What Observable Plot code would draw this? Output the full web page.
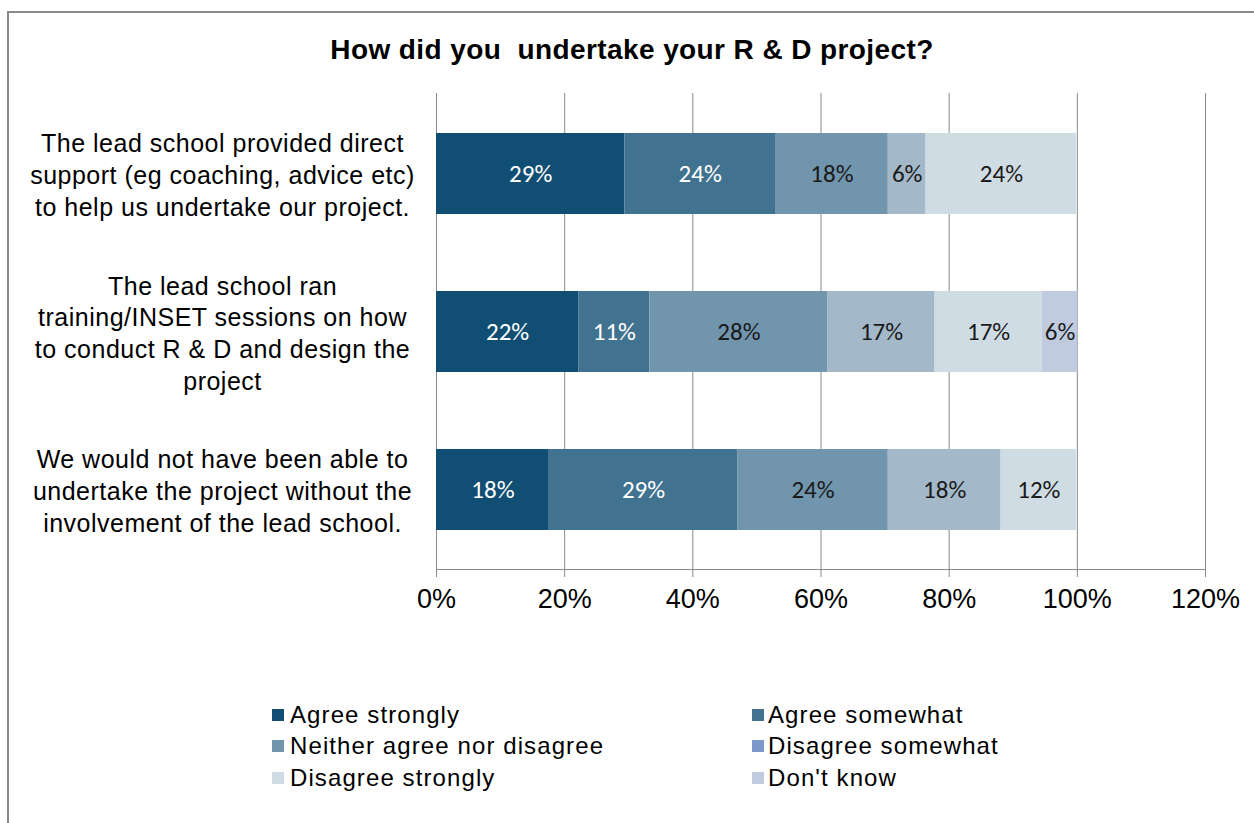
<!DOCTYPE html>
<html>
<head>
<meta charset="utf-8">
<script src="https://cdn.jsdelivr.net/npm/d3@7"></script>
<script src="https://cdn.jsdelivr.net/npm/@observablehq/plot@0.6"></script>
<style>
  html, body { margin: 0; padding: 0; background: #fff; }
  #wrap { position: relative; width: 1254px; height: 823px; overflow: hidden; background: #fff; font-family: "Liberation Sans", Arial, sans-serif; }
  #border { position: absolute; left: 7px; top: 11px; width: 1300px; height: 900px; border: 2px solid #8a8a8a; box-sizing: border-box; }
  #title { position: absolute; left: 0; width: 1264px; top: 35px; text-align: center; font-weight: bold; font-size: 28px; line-height: 30px; color: #000; letter-spacing: 0.4px; }
  #chart { position: absolute; left: 0; top: 70px; }
  #legend { position: absolute; left: 0; top: 0; }
  .li { position: absolute; font-size: 24px; line-height: 28px; color: #000; letter-spacing: 1.1px; white-space: nowrap; }
  .sw { position: absolute; width: 12px; height: 12px; }
  g[aria-label="y-axis tick label"] text { letter-spacing: 0.5px; }
</style>
</head>
<body>
<div id="wrap">
  <div id="border"></div>
  <div id="title">How did you&nbsp; undertake your R &amp; D project?</div>
  <div id="chart"></div>
  <div id="legend"></div>
</div>
<script>
const questions = [
  "The lead school provided direct\nsupport (eg coaching, advice etc)\nto help us undertake our project.",
  "The lead school ran\ntraining/INSET sessions on how\nto conduct R & D and design the\nproject",
  "We would not have been able to\nundertake the project without the\ninvolvement of the lead school."
];
const responses = ["Agree strongly", "Agree somewhat", "Neither agree nor disagree", "Disagree somewhat", "Disagree strongly", "Don't know"];
const barColors = ["#114e73", "#41728f", "#7195ad", "#a3b8c8", "#d0dce4", "#c1cbe0"];
const legendColors = ["#114e73", "#41728f", "#7195ad", "#7c98c8", "#d0dce4", "#c1cbe0"];
const labelColors = ["#ffffff", "#ffffff", "#1a1a1a", "#1a1a1a", "#1a1a1a", "#1a1a1a"];

const agreeStrongly    = [29.4, 22.2, 17.6];
const agreeSomewhat    = [23.5, 11.1, 29.4];
const neither          = [17.6, 27.8, 23.5];
const disagreeSomewhat = [5.9, 16.7, 17.6];
const disagreeStrongly = [23.5, 16.7, 11.8];
const dontKnow         = [0, 5.6, 0];

const xTicks = [0, 20, 40, 60, 80, 100, 120];

const series = [agreeStrongly, agreeSomewhat, neither, disagreeSomewhat, disagreeStrongly, dontKnow];
const data = [];
questions.forEach((q, qi) => {
  responses.forEach((r, ri) => {
    const v = series[ri][qi];
    if (v > 0) data.push({question: q, response: r, ri, value: v});
  });
});

const plot = Plot.plot({
  width: 1254,
  height: 560,
  marginLeft: 436,
  marginRight: 49,
  marginTop: 23,
  marginBottom: 61,
  style: {fontFamily: "'Liberation Sans', Arial, sans-serif", background: "transparent"},
  x: {domain: [0, 120], ticks: xTicks, label: null},
  y: {domain: questions, paddingInner: 0.49, paddingOuter: 0.245, label: null},
  color: {domain: responses, range: barColors},
  marks: [
    Plot.gridX(xTicks, {stroke: "#8a8a8a", strokeOpacity: 1, strokeWidth: 1}),
    Plot.barX(data, Plot.stackX({x: "value", y: "question", fill: "response", order: responses})),
    Plot.text(data, Plot.stackX({
      x: "value", y: "question", order: responses,
      text: d => Math.round(d.value) + "%",
      fill: d => labelColors[d.ri],
      fontSize: 25,
      fontFamily: "Carlito, Lato, sans-serif"
    })),
    Plot.frame({anchor: "bottom", stroke: "#8a8a8a"}),
    Plot.axisX(xTicks, {
      tickSize: 8, tickPadding: 11, stroke: "#8a8a8a", fill: "#000",
      fontSize: 27, tickFormat: d => d + "%", label: null
    }),
    Plot.axisY({
      tickSize: 0, tickPadding: 0, textAnchor: "middle", dx: -214,
      fontSize: 25, lineHeight: 1.27, fill: "#000", label: null
    })
  ]
});
document.getElementById("chart").appendChild(plot);

const legend = document.getElementById("legend");
const cols = [[272, 290], [752, 768]];
const rows = [715, 746, 778];
responses.forEach((r, i) => {
  const c = cols[i % 2], y = rows[Math.floor(i / 2)];
  const sw = document.createElement("div");
  sw.className = "sw";
  sw.style.left = c[0] + "px";
  sw.style.top = (y - 6) + "px";
  sw.style.background = legendColors[i];
  legend.appendChild(sw);
  const t = document.createElement("div");
  t.className = "li";
  t.style.left = c[1] + "px";
  t.style.top = (y - 14) + "px";
  t.textContent = r;
  legend.appendChild(t);
});
</script>
</body>
</html>
